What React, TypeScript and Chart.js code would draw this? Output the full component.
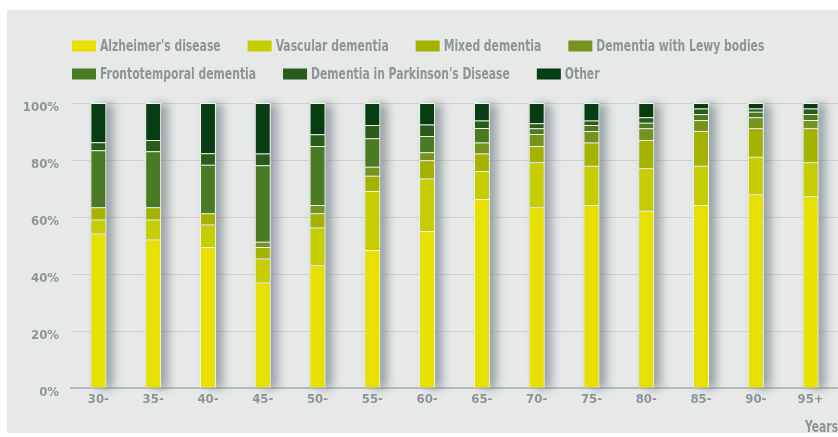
import React, { useEffect, useRef } from "react";
import { Chart, registerables } from "chart.js";

Chart.register(...registerables);

const categories = ["30-", "35-", "40-", "45-", "50-", "55-", "60-", "65-", "70-", "75-", "80-", "85-", "90-", "95+"];

const alzheimers = [54.2, 52.1, 49.5, 37.0, 43.1, 48.4, 55.1, 66.3, 63.4, 64.2, 62.2, 64.2, 68.0, 67.3];
const vascular = [4.9, 7.0, 7.9, 8.4, 13.2, 20.7, 18.4, 9.8, 15.8, 13.8, 14.9, 13.8, 13.1, 11.9];
const mixed = [4.3, 4.3, 3.9, 4.1, 5.0, 5.4, 6.4, 6.2, 5.7, 8.1, 9.9, 12.2, 10.0, 11.9];
const lewy = [0, 0, 0, 1.8, 2.9, 3.1, 2.8, 3.8, 4.2, 4.1, 4.1, 3.8, 3.9, 2.9];
const frontotemporal = [20.0, 19.7, 17.0, 26.9, 20.7, 10.0, 5.7, 5.1, 2.0, 2.1, 2.0, 2.1, 1.9, 2.1];
const parkinsons = [2.8, 3.9, 4.1, 4.1, 4.1, 4.7, 4.1, 2.7, 1.8, 1.6, 1.9, 2.0, 1.2, 2.0];
const other = [13.8, 13.0, 17.6, 17.7, 11.0, 7.7, 7.5, 6.1, 7.1, 6.1, 5.0, 1.9, 1.9, 1.9];

const seriesLabels = [
  "Alzheimer's disease",
  "Vascular dementia",
  "Mixed dementia",
  "Dementia with Lewy bodies",
  "Frontotemporal dementia",
  "Dementia in Parkinson's Disease",
  "Other",
];
const seriesValues = [alzheimers, vascular, mixed, lewy, frontotemporal, parkinsons, other];
const seriesColors = ["#e8e000", "#c6cd00", "#a3b300", "#77931f", "#4b7a24", "#285b1c", "#073d12"];

const yTicks = [0, 20, 40, 60, 80, 100];
const axisTitle = "Years";

const FONT = "'DejaVu Sans Condensed', 'Liberation Sans', sans-serif";
const TEXT_GREY = "#8d9599";

export default function App() {
  const ref = useRef<HTMLCanvasElement | null>(null);

  useEffect(() => {
    document.body.style.margin = "0";
    const canvas = ref.current;
    if (!canvas) return;

    const backgroundPlugin = {
      id: "panelBg",
      beforeDraw(chart: any) {
        const ctx = chart.ctx;
        ctx.save();
        ctx.fillStyle = "#ffffff";
        ctx.fillRect(0, 0, chart.width, chart.height);
        ctx.fillStyle = "#e6e9e7";
        ctx.fillRect(7, 10, chart.width - 7, 423);
        ctx.restore();
      },
    };

    const shadowPlugin = {
      id: "barShadow",
      beforeDatasetsDraw(chart: any) {
        const ctx = chart.ctx;
        const metas = chart.data.datasets.map((_: any, i: number) => chart.getDatasetMeta(i));
        ctx.save();
        ctx.shadowColor = "rgba(100,115,125,0.6)";
        ctx.shadowBlur = 10;
        ctx.shadowOffsetX = 7;
        ctx.shadowOffsetY = 1;
        ctx.fillStyle = "#c8cfd2";
        for (let j = 0; j < categories.length; j++) {
          let top = Infinity;
          let bottom = -Infinity;
          let x = 0;
          let w = 0;
          metas.forEach((m: any) => {
            const el = m.data[j];
            if (!el) return;
            const p = el.getProps(["x", "y", "base", "width"], true);
            top = Math.min(top, p.y, p.base);
            bottom = Math.max(bottom, p.y, p.base);
            x = p.x;
            w = p.width;
          });
          ctx.fillRect(x - w / 2, top, w, bottom - top);
        }
        ctx.restore();
      },
    };

    const SX = 0.8;
    const drawCondensed = (ctx: any, text: string, x: number, y: number) => {
      ctx.save();
      ctx.translate(x, y);
      ctx.scale(SX, 1);
      ctx.fillText(text, 0, 0);
      ctx.restore();
    };

    const legendPlugin = {
      id: "customLegend",
      afterDraw(chart: any) {
        const ctx = chart.ctx;
        ctx.save();
        ctx.font = `bold 15px ${FONT}`;
        ctx.textBaseline = "middle";
        ctx.textAlign = "left";
        let x = 72;
        let y = 46;
        const gap = 27;
        const boxW = 24;
        const boxH = 11;
        const textOff = 28;
        chart.data.datasets.forEach((ds: any) => {
          const tw = ctx.measureText(ds.label).width * SX;
          const itemW = textOff + tw;
          if (x > 72 && x + itemW > chart.width - 8) {
            x = 72;
            y += 28;
          }
          ctx.fillStyle = ds.backgroundColor;
          ctx.fillRect(x, y - boxH / 2, boxW, boxH);
          ctx.fillStyle = TEXT_GREY;
          drawCondensed(ctx, ds.label, x + textOff, y + 1);
          x += itemW + gap;
        });
        drawCondensed(ctx, axisTitle, 805, 428);
        ctx.restore();
      },
    };

    const chart = new Chart(canvas, {
      type: "bar",
      data: {
        labels: categories,
        datasets: seriesValues.map((vals, i) => ({
          label: seriesLabels[i],
          data: vals,
          backgroundColor: seriesColors[i],
          borderColor: "rgba(250,250,225,0.9)",
          borderWidth: 1,
          borderSkipped: "bottom",
          barPercentage: 0.29,
          categoryPercentage: 1,
        })),
      },
      options: {
        responsive: false,
        animation: false,
        events: [],
        layout: { padding: { top: 103, left: 0, right: 0, bottom: 0 } },
        plugins: {
          legend: { display: false },
          tooltip: { enabled: false },
          title: { display: false },
        },
        scales: {
          x: {
            stacked: true,
            grid: { display: false, drawTicks: false },
            border: { display: true, color: "#b4b9bb", width: 2 },
            ticks: {
              color: TEXT_GREY,
              font: { family: FONT, size: 13, weight: "bold" },
              padding: 4,
              maxRotation: 0,
              autoSkip: false,
            },
            afterFit(scale: any) {
              scale.height = 49;
            },
          },
          y: {
            stacked: true,
            min: 0,
            max: 100,
            afterBuildTicks(scale: any) {
              scale.ticks = yTicks.map((v) => ({ value: v }));
            },
            grid: { color: "#cdd1d1", lineWidth: 1, drawTicks: false },
            border: { display: false },
            ticks: {
              color: TEXT_GREY,
              font: { family: FONT, size: 13, weight: "bold" },
              padding: 12,
              labelOffset: 5,
              callback: (v: any) => `${v}%`,
            },
            afterFit(scale: any) {
              scale.width = 71;
            },
          },
        },
      },
      plugins: [backgroundPlugin, shadowPlugin, legendPlugin],
    });

    return () => {
      chart.destroy();
    };
  }, []);

  return (
    <div style={{ width: 838, height: 437 }}>
      <canvas ref={ref} width={838} height={437} style={{ display: "block" }} />
    </div>
  );
}
